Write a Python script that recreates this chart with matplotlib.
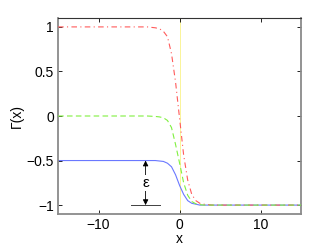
import numpy as np
import matplotlib
matplotlib.use('Agg')
import matplotlib.pyplot as plt

plt.rcParams['font.family'] = ['Liberation Sans', 'DejaVu Sans']

# values
x = [-15, -4, -3, -2.5, -2, -1.5, -1, -0.5, 0, 0.5, 1, 1.5, 2, 2.5, 3, 4, 15]
gamma_top = [1, 1, 0.99, 0.98, 0.95, 0.89, 0.70, 0.38, -0.03, -0.44, -0.72,
             -0.88, -0.95, -0.98, -0.99, -1, -1]
gamma_mid = [0, 0, -0.005, -0.01, -0.02, -0.05, -0.13, -0.32, -0.53, -0.75,
             -0.89, -0.96, -0.985, -0.995, -1, -1, -1]
gamma_low = [-0.5, -0.5, -0.5, -0.505, -0.51, -0.53, -0.57, -0.66, -0.78,
             -0.88, -0.95, -0.98, -0.99, -1, -1, -1, -1]

xticks = [-10, 0, 10]
yticks = [-1, -0.5, 0, 0.5, 1]
ytick_labels = ['\u22121', '\u22120.5', '0', '0.5', '1']
xtick_labels = ['\u221210', '0', '10']

eps_x = -4.2
eps_top = -0.5
eps_bottom = -1.0
eps_bar = (-6.0, -2.45)

fig = plt.figure(figsize=(3.32, 2.5), dpi=100)
ax = fig.add_axes([0.175, 0.144, 0.732, 0.784])

ax.axvline(0, color='#f8f070', lw=0.5, zorder=1)
ax.plot(x, gamma_top, color='#ff5a5a', ls='-.', lw=0.8, dashes=(5, 3, 1, 3), zorder=3)
ax.plot(x, gamma_mid, color='#80f040', ls='--', lw=0.8, dashes=(5, 3), zorder=3)
ax.plot(x, gamma_low, color='#6a78ff', ls='-', lw=0.8, zorder=2)

# epsilon marker
ax.plot(eps_bar, [eps_bottom, eps_bottom], color='#404040', lw=0.7)
ax.annotate('', xy=(eps_x, eps_top), xytext=(eps_x, eps_bottom),
            arrowprops=dict(arrowstyle='<|-|>', color='black', lw=0.6,
                            mutation_scale=8, shrinkA=0, shrinkB=0))
ax.text(eps_x, (eps_top + eps_bottom) / 2, '\u03b5', ha='center', va='center',
        fontsize=11, bbox=dict(facecolor='white', edgecolor='none', pad=0.5))

ax.set_xlim(-15, 15)
ax.set_ylim(-1.1, 1.1)
ax.set_xticks(xticks)
ax.set_xticklabels(xtick_labels)
ax.set_yticks(yticks)
ax.set_yticklabels(ytick_labels)
ax.tick_params(direction='in', length=3, width=0.6, top=True, right=True,
               labelsize=10, pad=3)
ax.set_xlabel('x', fontsize=10, labelpad=0)
ax.set_ylabel('\u0393(x)', fontsize=10, labelpad=2)

for side in ['left', 'bottom', 'right']:
    ax.spines[side].set_color('#8a8a8a')
    ax.spines[side].set_linewidth(1.3)
ax.spines['top'].set_color('#333333')
ax.spines['top'].set_linewidth(0.8)

fig.savefig('out.png', dpi=100)
